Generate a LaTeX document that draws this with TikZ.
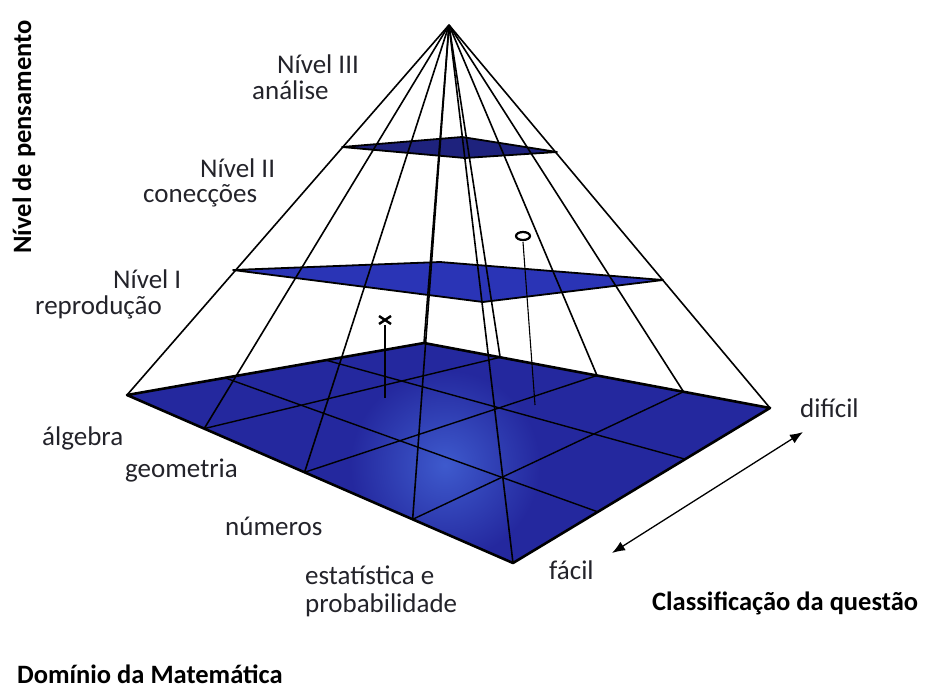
\documentclass[tikz,border=0pt]{standalone}
\usepackage{fontspec}
\setmainfont{Carlito}
\usetikzlibrary{arrows.meta,calc}

\definecolor{baseblue}{RGB}{36,40,158}
\definecolor{midblue}{RGB}{42,52,182}
\definecolor{topblue}{RGB}{30,34,125}
\definecolor{glowblue}{RGB}{62,90,205}
\definecolor{txt}{RGB}{35,35,42}

\tikzset{
  lvltext/.style={font=\fontsize{27}{30}\selectfont, text=txt, inner sep=0pt, anchor=base west},
  axistitle/.style={lvltext, font=\fontsize{26.5}{30}\selectfont\bfseries, text=black},
  ridge/.style={black, line width=1.6pt},
  gridline/.style={black, line width=1.4pt},
  rim/.style={black, line width=2.6pt, line join=round},
}

\begin{document}
\begin{tikzpicture}[x=1pt, y=-1pt]
    \useasboundingbox (0,0) rectangle (925,691);

    % Apex and base corners
    \coordinate (A) at (449,25);
    \coordinate (L) at (127,395);
    \coordinate (F) at (513,563);
    \coordinate (R) at (770,408);
    \coordinate (B) at (424,343);

    % Division points on the base edges
    \foreach \t [count=\i] in {0.2,0.46,0.74} {
        \coordinate (lf\i) at ($(L)!\t!(F)$);
    }
    \foreach \t [count=\i] in {0.22,0.5,0.75} {
        \coordinate (br\i) at ($(B)!\t!(R)$);
    }
    \foreach \t [count=\i] in {0.33,0.67} {
        \coordinate (lb\i) at ($(L)!\t!(B)$);
        \coordinate (fr\i) at ($(F)!\t!(R)$);
    }

    % Base of the pyramid
    \fill[baseblue] (L) -- (F) -- (R) -- (B) -- cycle;
    \begin{scope}
        \clip (L) -- (F) -- (R) -- (B) -- cycle;
        \shade[inner color=glowblue, outer color=baseblue] (445,465) circle (95pt);
    \end{scope}
    \foreach \i in {1,2,3} \draw[gridline] (lf\i) -- (br\i);
    \foreach \i in {1,2} \draw[gridline] (lb\i) -- (fr\i);
    \draw[rim] (L) -- (F) -- (R) -- (B) -- cycle;

    % Middle plane
    \coordinate (mL) at (233,270);
    \coordinate (mF) at (483,302);
    \coordinate (mR) at (663,280);
    \coordinate (mB) at (440,262);
    \fill[midblue] (mL) -- (mF) -- (mR) -- (mB) -- cycle;
    \draw[black, line width=1.8pt, line join=round] (mL) -- (mF) -- (mR) -- (mB) -- cycle;

    % Top plane
    \coordinate (tL) at (342,147);
    \coordinate (tF) at (465,158);
    \coordinate (tR) at (557,152);
    \coordinate (tB) at (462,137);
    \fill[topblue] (tL) -- (tF) -- (tR) -- (tB) -- cycle;
    \draw[black, line width=1.8pt, line join=round] (tL) -- (tF) -- (tR) -- (tB) -- cycle;

    % Lines from the apex
    \foreach \p in {L,lf1,lf2,lf3,F,br1,br2,br3,R,B}
        \draw[ridge] (A) -- (\p);

    % Markers
    \coordinate (xm) at (385,320);
    \coordinate (xfoot) at (385,398);
    \draw[black, line width=1.1pt] ($(xm)+(0,5)$) -- (xfoot);
    \draw[black, line width=2.4pt] ($(xm)+(-6,-4)$) -- ($(xm)+(6,4)$)
        ($(xm)+(-6,4)$) -- ($(xm)+(6,-4)$);
    \coordinate (om) at (523,236);
    \coordinate (ofoot) at (535,405);
    \draw[black, line width=1.1pt] ($(om)+(0,6)$) -- (ofoot);
    \draw[black, line width=2.2pt] (om) ellipse (7pt and 4pt);

    % Difficulty arrow
    \coordinate (easy) at (612,553);
    \coordinate (hard) at (803,432);
    \draw[{Latex[length=13pt,width=10pt]}-{Latex[length=13pt,width=10pt]}, line width=1.3pt] (easy) -- (hard);

    % Level labels
    \node[lvltext] (n3) at (277,73) {Nível III};
    \node[lvltext] (n3b) at (252,99) {análise};
    \node[lvltext] (n2) at (200,177) {Nível II};
    \node[lvltext] (n2b) at (143,202) {conecções};
    \node[lvltext] (n1) at (113,288) {Nível I};
    \node[lvltext] (n1b) at (35,314) {reprodução};

    % Domain labels
    \node[lvltext] (alg) at (42,445) {álgebra};
    \node[lvltext] (geo) at (125,477) {geometria};
    \node[lvltext] (num) at (225,535) {números};
    \node[lvltext] (est) at (305,584) {estatística e};
    \node[lvltext] (prob) at (305,612) {probabilidade};

    % Difficulty labels
    \node[lvltext] (fac) at (549,579) {fácil};
    \node[lvltext] (dif) at (800,417) {difícil};

    % Axis titles
    \node[axistitle, anchor=center, rotate=90] (ytitle) at (24,137) {Nível de pensamento};
    \node[axistitle] (ctitle) at (652,610) {Classificação da questão};
    \node[axistitle] (dtitle) at (17,683) {Domínio da Matemática};
\end{tikzpicture}
\end{document}
